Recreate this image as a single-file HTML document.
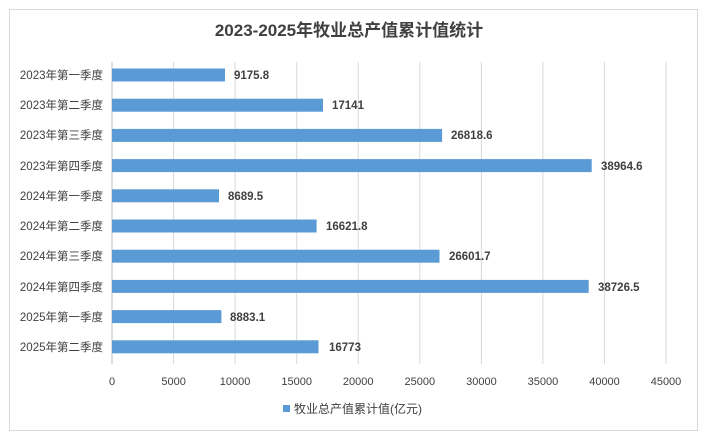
<!DOCTYPE html>
<html><head><meta charset="utf-8"><style>
body{margin:0;background:#fff;}
svg text{font-family:"Liberation Sans","Noto Sans CJK SC",sans-serif;}
</style></head><body>
<svg width="702" height="437" xmlns="http://www.w3.org/2000/svg">
<rect x="9.5" y="9.5" width="688" height="421" fill="#fff" stroke="#d9d9d9"/>
<text x="349" y="36" text-anchor="middle" font-size="17" font-weight="bold" fill="#404040">2023-2025年牧业总产值累计值统计</text>
<g stroke="#d9d9d9" stroke-width="1">
<line x1="173.6" y1="62" x2="173.6" y2="364"/><line x1="235.1" y1="62" x2="235.1" y2="364"/>
<line x1="296.7" y1="62" x2="296.7" y2="364"/><line x1="358.2" y1="62" x2="358.2" y2="364"/>
<line x1="419.8" y1="62" x2="419.8" y2="364"/><line x1="481.4" y1="62" x2="481.4" y2="364"/>
<line x1="542.9" y1="62" x2="542.9" y2="364"/><line x1="604.5" y1="62" x2="604.5" y2="364"/>
<line x1="666" y1="62" x2="666" y2="364"/>
</g>
<line x1="112" y1="62" x2="112" y2="364" stroke="#bfbfbf"/>
<g fill="#5b9bd5">
<rect x="112" y="68.5" width="113" height="13"/>
<rect x="112" y="98.7" width="211" height="13"/>
<rect x="112" y="128.9" width="330.1" height="13"/>
<rect x="112" y="159.1" width="479.7" height="13"/>
<rect x="112" y="189.3" width="107" height="13"/>
<rect x="112" y="219.5" width="204.6" height="13"/>
<rect x="112" y="249.7" width="327.5" height="13"/>
<rect x="112" y="279.9" width="476.7" height="13"/>
<rect x="112" y="310.1" width="109.4" height="13"/>
<rect x="112" y="340.3" width="206.5" height="13"/>
</g>
<g font-size="11.5" fill="#404040" text-anchor="end">
<text x="103" y="79">2023年第一季度</text><text x="103" y="109">2023年第二季度</text>
<text x="103" y="139">2023年第三季度</text><text x="103" y="170">2023年第四季度</text>
<text x="103" y="200">2024年第一季度</text><text x="103" y="230">2024年第二季度</text>
<text x="103" y="260">2024年第三季度</text><text x="103" y="291">2024年第四季度</text>
<text x="103" y="321">2025年第一季度</text><text x="103" y="351">2025年第二季度</text>
</g>
<g font-size="11.5" font-weight="bold" fill="#404040">
<text x="234" y="79">9175.8</text><text x="332" y="109">17141</text>
<text x="451" y="139">26818.6</text><text x="601" y="170">38964.6</text>
<text x="228" y="200">8689.5</text><text x="326" y="230">16621.8</text>
<text x="449" y="260">26601.7</text><text x="598" y="291">38726.5</text>
<text x="230" y="321">8883.1</text><text x="329" y="351">16773</text>
</g>
<g font-size="11" fill="#404040" text-anchor="middle">
<text x="112" y="385">0</text><text x="173.6" y="385">5000</text><text x="235.1" y="385">10000</text>
<text x="296.7" y="385">15000</text><text x="358.2" y="385">20000</text><text x="419.8" y="385">25000</text>
<text x="481.4" y="385">30000</text><text x="542.9" y="385">35000</text><text x="604.5" y="385">40000</text>
<text x="666" y="385">45000</text>
</g>
<rect x="283" y="405" width="7" height="7" fill="#5b9bd5"/>
<text x="294" y="413" font-size="12" fill="#404040">牧业总产值累计值(亿元)</text>
</svg>
</body></html>
